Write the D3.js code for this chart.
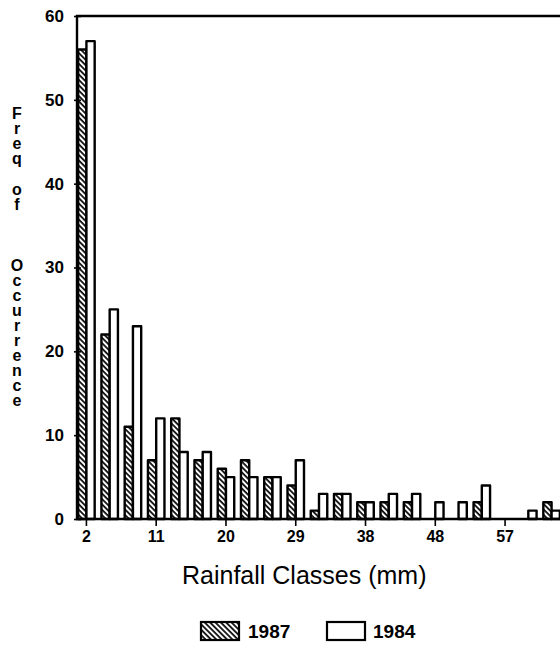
<!DOCTYPE html>
<html>
<head>
<meta charset="utf-8">
<script src="https://cdn.jsdelivr.net/npm/d3@7"></script>
<style>
  html, body { margin: 0; padding: 0; background: #fff; }
  svg { display: block; font-family: "Liberation Sans", Arial, Helvetica, sans-serif; }
  .vword { writing-mode: vertical-rl; text-orientation: upright; }
</style>
</head>
<body>
<svg id="chart" width="560" height="647"></svg>
<script>
// Rainfall class (lower bound, mm) and occurrence counts per year
const classes = [2, 5, 8, 11, 14, 17, 20, 23, 26, 29, 32, 35, 38, 41, 44, 47, 50, 53, 56, 59, 62];
const freq1987 = [56, 22, 11, 7, 12, 7, 6, 7, 5, 4, 1, 3, 2, 2, 2, 0, 0, 2, 0, 0, 2];
const freq1984 = [57, 25, 23, 12, 8, 8, 5, 5, 5, 7, 3, 3, 2, 3, 3, 2, 2, 4, 0, 1, 1];
const seriesNames = ["1987", "1984"];
const yTicks = [0, 10, 20, 30, 40, 50, 60];
const xTickClasses = [2, 11, 20, 29, 38, 47, 56];
const xTickLabels = ["2", "11", "20", "29", "38", "48", "57"];
const yTitleWords = ["Freq", "of", "Occurrence"];

(function () {
const svg = d3.select("#chart");
const plotLeft = 77, plotRight = 561, plotTop = 16, plotBottom = 519;

const x = d3.scaleBand().domain(classes).range([plotLeft, plotRight])
  .paddingInner(0.29).paddingOuter(0.05);
const xs = d3.scaleBand().domain(seriesNames).range([0, x.bandwidth()]);
const y = d3.scaleLinear().domain([0, 60]).range([plotBottom, plotTop]);

// diagonal hatch for the 1987 bars
const defs = svg.append("defs");
const pat = defs.append("pattern")
  .attr("id", "hatch")
  .attr("patternUnits", "userSpaceOnUse")
  .attr("width", 3.8).attr("height", 3.8)
  .attr("patternTransform", "rotate(-45)");
pat.append("rect").attr("width", 3.8).attr("height", 3.8).attr("fill", "#fff");
pat.append("line").attr("x1", 1).attr("y1", 0).attr("x2", 1).attr("y2", 3.8)
  .attr("stroke", "#000").attr("stroke-width", 1.7);

const fills = { "1987": "url(#hatch)", "1984": "#fff" };

// bars
const rows = classes.map((c, i) => ({ c, vals: { "1987": freq1987[i], "1984": freq1984[i] } }));
const groups = svg.append("g").selectAll("g").data(rows).join("g")
  .attr("transform", d => `translate(${x(d.c)},0)`);
groups.selectAll("rect")
  .data(d => seriesNames.map(s => ({ s, v: d.vals[s] })).filter(e => e.v > 0))
  .join("rect")
  .attr("x", e => xs(e.s))
  .attr("width", xs.bandwidth())
  .attr("y", e => y(e.v))
  .attr("height", e => y(0) - y(e.v))
  .attr("fill", e => fills[e.s])
  .attr("stroke", "#000")
  .attr("stroke-width", 2.4)
  .attr("stroke-linejoin", "round");

// frame lines: left axis, top border, baseline
const frame = svg.append("g").attr("stroke", "#000").attr("stroke-width", 2.4).attr("fill", "none");
frame.append("path").attr("d", `M${plotRight},${y(60)} H${plotLeft} V${y(0)} H${plotRight}`);

// y axis
const yAxis = svg.append("g")
  .attr("transform", `translate(${plotLeft},0)`)
  .call(d3.axisLeft(y).tickValues(yTicks).tickSize(4).tickPadding(9).tickFormat(d3.format("d")));
yAxis.select(".domain").remove();
yAxis.selectAll(".tick line").attr("x1", -3).attr("x2", 4).attr("stroke-width", 1.6);
yAxis.selectAll(".tick text")
  .attr("font-size", 17).attr("font-weight", "bold").attr("fill", "#000")
  .attr("font-family", "'Liberation Sans', Arial, sans-serif");

// x axis
const xTickScale = d3.scaleOrdinal().domain(xTickClasses).range(xTickLabels);
const xAxis = svg.append("g")
  .attr("transform", `translate(0,${plotBottom})`)
  .call(d3.axisBottom(x).tickValues(xTickClasses).tickSize(7).tickPadding(5)
    .tickFormat(d => xTickScale(d)));
xAxis.select(".domain").remove();
xAxis.selectAll(".tick line").attr("stroke-width", 1.6);
xAxis.selectAll(".tick text")
  .attr("font-size", 16).attr("font-weight", "bold").attr("fill", "#000")
  .attr("font-family", "'Liberation Sans', Arial, sans-serif");

// x title
svg.append("text")
  .attr("x", 182).attr("y", 584)
  .attr("font-size", 25).attr("fill", "#000")
  .text("Rainfall Classes (mm)");

// y title: each word written top-to-bottom with upright letters
const wordStarts = [105, 181, 257];
svg.append("g").selectAll("text").data(yTitleWords).join("text")
  .attr("class", "vword")
  .attr("x", 17).attr("y", (d, i) => wordStarts[i])
  .attr("font-size", 16).attr("font-weight", "bold").attr("fill", "#000")
  .attr("letter-spacing", -2)
  .text(d => d);

// legend
const legend = svg.append("g");
const legendItems = [
  { s: "1987", bx: 201, tx: 248 },
  { s: "1984", bx: 327, tx: 373 }
];
legendItems.forEach(it => {
  legend.append("rect")
    .attr("x", it.bx).attr("y", 622).attr("width", 38).attr("height", 18)
    .attr("fill", fills[it.s]).attr("stroke", "#000").attr("stroke-width", 2.2);
  legend.append("text")
    .attr("x", it.tx).attr("y", 638)
    .attr("font-size", 19).attr("font-weight", "bold").attr("fill", "#000")
    .text(it.s);
});
})();
</script>
</body>
</html>
